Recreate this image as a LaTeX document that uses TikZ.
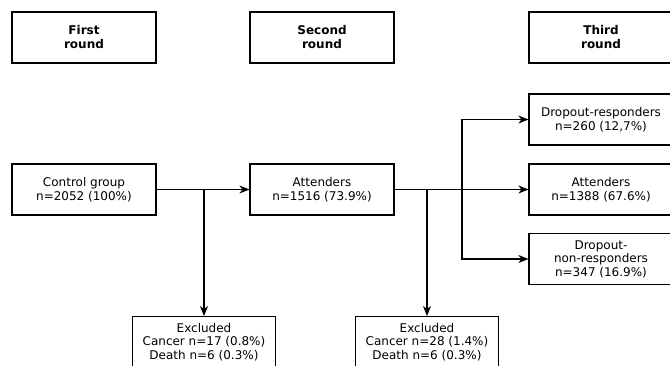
\documentclass[tikz,border=0pt]{standalone}
\usepackage{fontspec}
\setmainfont{DejaVu Sans}
\usetikzlibrary{arrows.meta}
\begin{document}
\begin{tikzpicture}[x=1pt,y=-1pt,
  box/.style={draw, line width=1.2pt, minimum width=144pt, minimum height=51pt, inner sep=0pt, align=center, font=\fontsize{12}{13.5}\selectfont},
  hdr/.style={box, font=\fontsize{12}{14}\selectfont\bfseries},
  con/.style={line width=1.2pt},
  arr/.style={con, -{Stealth[length=10pt,width=8pt,inset=3pt]}}]
\useasboundingbox (0,0) rectangle (670,365);
\node[hdr] (h1) at (84,37.5) {First\\round};
\node[hdr] (h2) at (322,37.5) {Second\\round};
\node[hdr] (h3) at (601,37.5) {Third\\round};
\node[box] (ctrl) at (84,189.5) {Control group\\n=2052 (100\%)};
\node[box] (att) at (322,189.5) {Attenders\\n=1516 (73.9\%)};
\node[box] (dr) at (601,119.5) {Dropout-responders\\n=260 (12,7\%)};
\node[box] (att3) at (601,189.5) {Attenders\\n=1388 (67.6\%)};
\node[box] (dnr) at (601,259) {Dropout-\\non-responders\\n=347 (16.9\%)};
\node[box, anchor=north, minimum width=143pt] (ex1) at (204,316) {Excluded\\Cancer n=17 (0.8\%)\\Death n=6 (0.3\%)};
\node[box, anchor=north, minimum width=143pt] (ex2) at (427,316) {Excluded\\Cancer n=28 (1.4\%)\\Death n=6 (0.3\%)};
\coordinate (b1) at (204,189.5);
\coordinate (b2) at (427,189.5);
\coordinate (sp) at (462,189.5);
\draw[arr] (ctrl.east) -- (att.west);
\draw[arr] (b1) -- (ex1.north);
\draw[arr] (att.east) -- (att3.west);
\draw[arr] (b2) -- (ex2.north);
\draw[arr] (sp) |- (dr.west);
\draw[arr] (sp) |- (dnr.west);
\end{tikzpicture}
\end{document}
